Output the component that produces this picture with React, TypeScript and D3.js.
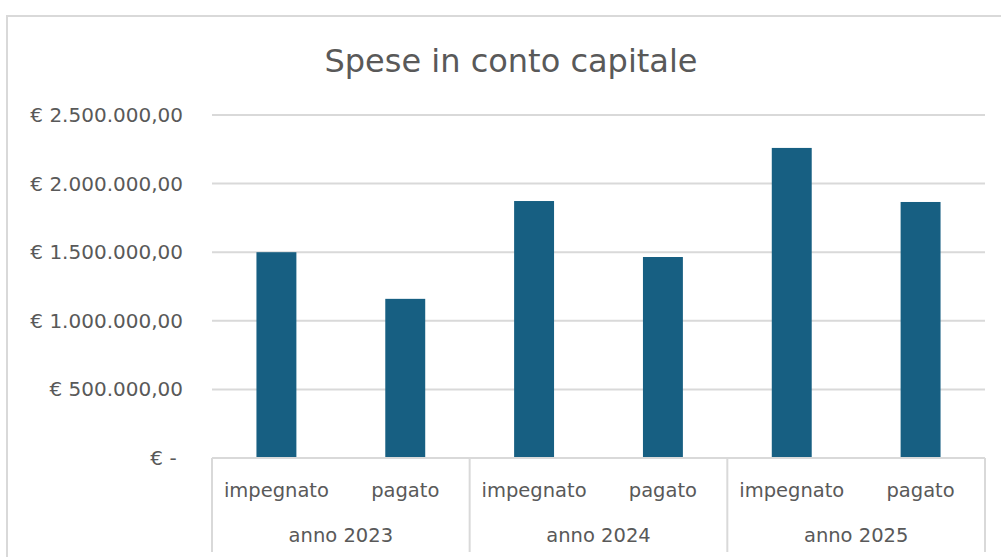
import React from "react";
import * as d3 from "d3";

const title = "Spese in conto capitale";
const years = ["anno 2023", "anno 2024", "anno 2025"];
const kinds = ["impegnato", "pagato"];
const values2023 = [1500000, 1160000];
const values2024 = [1873000, 1465000];
const values2025 = [2260000, 1866000];
const yTicks = [0, 500000, 1000000, 1500000, 2000000, 2500000];

const W = 1001;
const H = 557;
const plot = { left: 212, right: 985, top: 115, bottom: 458 };
const barColor = "#175F82";
const gridColor = "#D9D9D9";
const textColor = "#595959";
const font = "'DejaVu Sans', sans-serif";

const fmt = (v: number) => {
  if (v === 0) return "€ -\u00A0";
  const s = d3.format(",.2f")(v);
  const it = s.replace(/,/g, "#").replace(".", ",").replace(/#/g, ".");
  return "€ " + it;
};

export default function App() {
  const allValues = [values2023, values2024, values2025];
  const rows = years.flatMap((y, gi) =>
    kinds.map((k, ki) => ({ key: `${gi}-${ki}`, year: y, kind: k, value: allValues[gi][ki] }))
  );

  const x = d3
    .scaleBand<string>()
    .domain(rows.map((r) => r.key))
    .range([plot.left, plot.right])
    .paddingInner(0.69)
    .paddingOuter(0.345);

  const xg = d3.scaleBand<string>().domain(years).range([plot.left, plot.right]);

  const y = d3.scaleLinear().domain([0, 2500000]).range([plot.bottom, plot.top]);

  const axisBottom = 552;

  return (
    <svg
      width={W}
      height={H}
      style={{ position: "absolute", left: 0, top: 0, background: "#fff" }}
      fontFamily={font}
    >
      <rect x={7} y={16} width={W} height={H} fill="#fff" stroke={gridColor} strokeWidth={2} />
      <text x={511} y={72} textAnchor="middle" fontSize={32} fill={textColor}>
        {title}
      </text>
      {yTicks.map((t) => (
        <g key={t}>
          {t > 0 && (
            <line x1={plot.left} x2={plot.right} y1={y(t)} y2={y(t)} stroke={gridColor} strokeWidth={2} />
          )}
          <text x={183} y={y(t) + 7} textAnchor="end" fontSize={20} fill={textColor}>
            {fmt(t)}
          </text>
        </g>
      ))}
      {rows.map((r) => (
        <rect
          key={r.key}
          x={x(r.key)}
          width={x.bandwidth()}
          y={y(r.value)}
          height={y(0) - y(r.value)}
          fill={barColor}
        />
      ))}
      <line x1={plot.left} x2={plot.right} y1={y(0)} y2={y(0)} stroke={gridColor} strokeWidth={2} />
      {years.map((yr) => (
        <line
          key={yr}
          x1={xg(yr)}
          x2={xg(yr)}
          y1={y(0)}
          y2={axisBottom}
          stroke={gridColor}
          strokeWidth={2}
        />
      ))}
      <line x1={plot.right} x2={plot.right} y1={y(0)} y2={axisBottom} stroke={gridColor} strokeWidth={2} />
      {rows.map((r) => (
        <text
          key={"l" + r.key}
          x={(x(r.key) as number) + x.bandwidth() / 2}
          y={497}
          textAnchor="middle"
          fontSize={19.5}
          fill={textColor}
        >
          {r.kind}
        </text>
      ))}
      {years.map((yr) => (
        <text
          key={"g" + yr}
          x={(xg(yr) as number) + xg.bandwidth() / 2}
          y={542}
          textAnchor="middle"
          fontSize={19.5}
          fill={textColor}
        >
          {yr}
        </text>
      ))}
    </svg>
  );
}
